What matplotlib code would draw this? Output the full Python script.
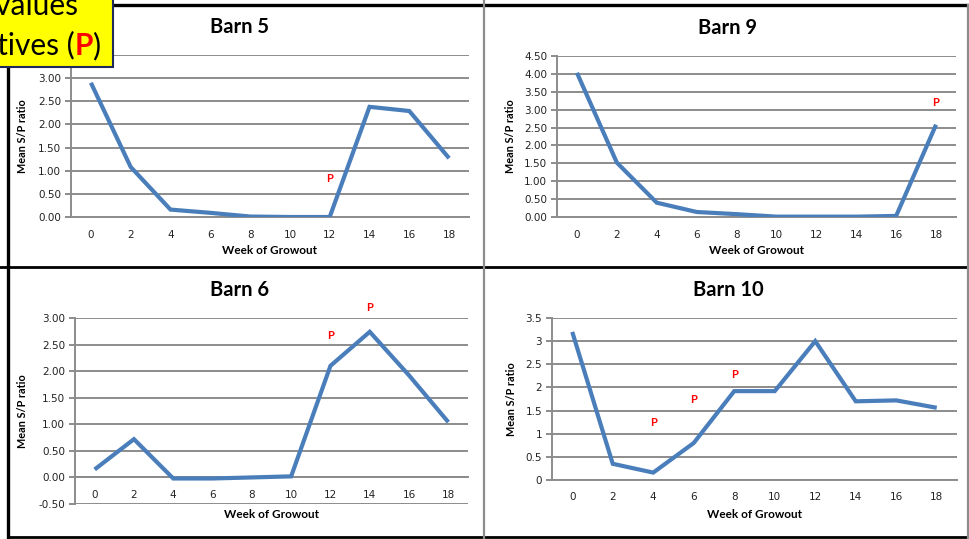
import matplotlib
matplotlib.use("Agg")
import matplotlib.pyplot as plt
from matplotlib.lines import Line2D
from matplotlib.patches import Rectangle
from matplotlib.ticker import FuncFormatter

# ---- data -------------------------------------------------------------
weeks = [0, 2, 4, 6, 8, 10, 12, 14, 16, 18]

barn5 = [2.90, 1.08, 0.16, 0.09, 0.01, 0.00, 0.00, 2.38, 2.29, 1.27]
barn9 = [4.03, 1.52, 0.40, 0.14, 0.08, 0.01, 0.01, 0.01, 0.03, 2.58]
barn6 = [0.15, 0.72, -0.02, -0.02, 0.00, 0.02, 2.10, 2.74, 1.92, 1.04]
barn10 = [3.20, 0.35, 0.16, 0.80, 1.92, 1.92, 3.00, 1.70, 1.72, 1.56]

# weeks where positives ("P") were recorded, and label heights
p5_weeks, p5_y = [12], [0.84]
p9_weeks, p9_y = [18], [3.21]
p6_weeks, p6_y = [12, 14], [2.67, 3.19]
p10_weeks, p10_y = [4, 6, 8], [1.24, 1.74, 2.28]

# ---- style ------------------------------------------------------------
W, H = 970, 539
LINE = "#4A7EBB"
GRID = "#8C8C8C"
LABEL_FONT = ["Lato", "DejaVu Sans"]

fig = plt.figure(figsize=(W / 100, H / 100), dpi=100)
fig.patch.set_facecolor("white")


def fx(x):
    return x / W


def fy(y):
    return 1 - y / H


def make_panel(box, values, ylim, step, fmt, p_weeks, p_y, title, title_xy,
               xlabel_y, ylabel_x, hide_top_label=False):
    l, t, r, b = box
    ax = fig.add_axes([fx(l), fy(b), (r - l) / W, (b - t) / H])
    idx = list(range(len(weeks)))
    ax.plot(idx, values, color=LINE, lw=3.0, solid_joinstyle="miter",
            solid_capstyle="butt", zorder=3)
    ax.set_xlim(-0.5, len(weeks) - 0.5)
    ax.set_ylim(*ylim)
    n = int(round((ylim[1] - ylim[0]) / step))
    ticks = [ylim[0] + i * step for i in range(n + 1)]
    ax.set_yticks(ticks)
    labels = [fmt(v) for v in ticks]
    if hide_top_label:
        # the top label sits underneath the note box
        labels[-1] = ""
    ax.set_yticklabels(labels)
    ax.set_xticks(idx)
    ax.set_xticklabels([str(w) for w in weeks])
    ax.grid(axis="y", color=GRID, lw=1.4, zorder=1)
    ax.set_axisbelow(True)
    for s in ("top", "right"):
        ax.spines[s].set_visible(False)
    ax.spines["left"].set_color(GRID)
    ax.spines["left"].set_linewidth(1.4)
    ax.spines["bottom"].set_color(GRID)
    ax.spines["bottom"].set_linewidth(1.4)
    ax.spines["bottom"].set_position(("data", 0))
    ax.tick_params(axis="y", length=4, width=1.4, color=GRID, pad=3,
                   labelsize=7.5, labelcolor="#222222")
    ax.tick_params(axis="x", length=0, pad=9, labelsize=7.5,
                   labelcolor="#222222")
    for lab in ax.get_xticklabels() + ax.get_yticklabels():
        lab.set_family("DejaVu Sans")

    for w, y in zip(p_weeks, p_y):
        ax.text(weeks.index(w), y, "P", color="#FF0000", fontsize=8,
                fontweight="bold", ha="center", va="center",
                family=LABEL_FONT)

    fig.text(fx(title_xy[0]), fy(title_xy[1]), title, fontsize=14.5,
             fontweight="bold", ha="center", va="center", family=LABEL_FONT)
    fig.text(fx((l + r) / 2), fy(xlabel_y), "Week of Growout", fontsize=8.5,
             fontweight="bold", ha="center", va="center", family=LABEL_FONT)
    fig.text(fx(ylabel_x), fy((t + b) / 2), "Mean S/P ratio", fontsize=7.8,
             fontweight="bold", ha="center", va="center", rotation=90,
             family=LABEL_FONT)
    return ax


two_dp = lambda v: f"{v:.2f}"
general = lambda v: f"{v:g}"

make_panel((71, 55, 469, 217), barn5, (0, 3.5), 0.5, two_dp,
           p5_weeks, p5_y, "Barn 5", (240, 27), 251, 23, hide_top_label=True)
make_panel((557, 56, 956, 217), barn9, (0, 4.5), 0.5, two_dp,
           p9_weeks, p9_y, "Barn 9", (728, 28), 251, 511)
make_panel((75, 318, 468, 504), barn6, (-0.5, 3.0), 0.5, two_dp,
           p6_weeks, p6_y, "Barn 6", (240, 290), 515, 23)
make_panel((552, 318, 957, 480), barn10, (0, 3.5), 0.5, general,
           p10_weeks, p10_y, "Barn 10", (728, 290), 515, 512)


# ---- frame lines between the four charts ------------------------------
def hline(y, x0, x1, color, lw):
    fig.add_artist(Line2D([fx(x0), fx(x1)], [fy(y), fy(y)],
                          transform=fig.transFigure, color=color, lw=lw,
                          zorder=5))


def vline(x, y0, y1, color, lw):
    fig.add_artist(Line2D([fx(x), fx(x)], [fy(y0), fy(y1)],
                          transform=fig.transFigure, color=color, lw=lw,
                          zorder=5))


hline(5, 113, 970, "black", 2.4)
hline(267, 0, 970, "black", 2.0)
hline(537, 8, 970, "black", 2.0)
vline(8, 60, 539, "black", 2.4)
vline(484, 0, 539, GRID, 1.6)
vline(968, 5, 539, GRID, 1.6)

# ---- legend note box in the upper-left corner -------------------------
NOTE_SIZE = 21.5
fig.add_artist(Rectangle((fx(-5), fy(67)), (113 + 5) / W, (67 + 5) / H,
                         transform=fig.transFigure, facecolor="#FFFF00",
                         edgecolor="#1F2A5A", lw=1.5, zorder=10))
fig.text(fx(78), fy(14), "Mean S/P values", fontsize=NOTE_SIZE, ha="right",
         va="baseline", family=LABEL_FONT, zorder=11)
t1 = fig.text(fx(101), fy(55), ")", fontsize=NOTE_SIZE, ha="right",
              va="baseline", family=LABEL_FONT, zorder=11)
fig.canvas.draw()
r = fig.canvas.get_renderer()
bb = t1.get_window_extent(r)
t2 = fig.text(bb.x0 / W, fy(55), "P", fontsize=NOTE_SIZE, ha="right",
              va="baseline", family=LABEL_FONT, fontweight="bold",
              color="#FF0000", zorder=11)
bb2 = t2.get_window_extent(r)
fig.text(bb2.x0 / W, fy(55), "with positives (", fontsize=NOTE_SIZE,
         ha="right", va="baseline", family=LABEL_FONT, zorder=11)

fig.savefig("out.png", dpi=100, facecolor="white")
